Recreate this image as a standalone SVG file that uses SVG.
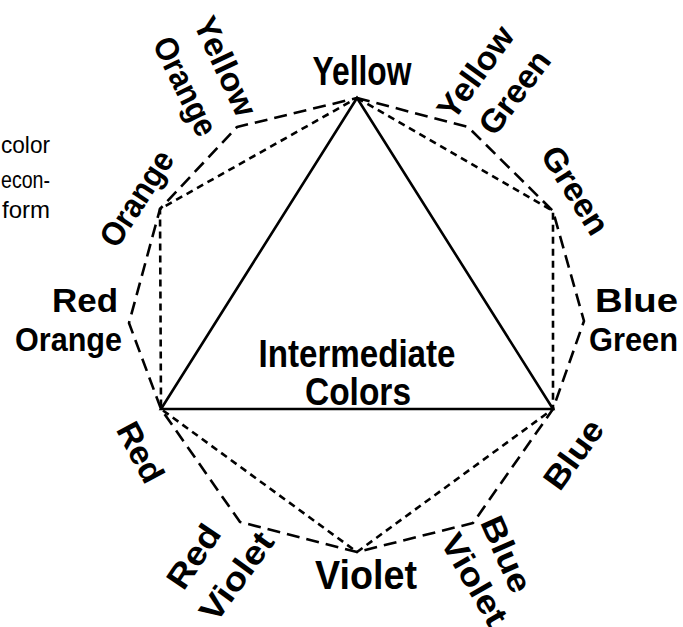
<svg xmlns="http://www.w3.org/2000/svg" width="683" height="627" viewBox="0 0 683 627">
<style>
  .bg { fill: #ffffff; }
  .solid { fill: none; stroke: #000; stroke-width: 2.6; stroke-linejoin: miter; }
  .short { fill: none; stroke: #000; stroke-width: 2.6; stroke-dasharray: 7 5; stroke-linejoin: round; }
  .long { fill: none; stroke: #000; stroke-width: 2.6; stroke-dasharray: 13 7; stroke-linejoin: round; }
  text { font-family: "Liberation Sans", Arial, sans-serif; fill: #000; }
  .up { font-weight: bold; font-size: 33px; }
  .big { font-weight: bold; font-size: 41px; }
  .rot { font-weight: bold; font-size: 33px; }
  .mid { font-weight: bold; font-size: 38px; }
  .side { font-size: 24px; }
</style>
<rect class="bg" x="0" y="0" width="683" height="627"/>

<g id="connectors">
  <polygon class="solid" points="357,98 553,409 161,409"/>
  <polygon class="short" points="357,98 553,211 553,409 357,552 161,409 160,209"/>
  <polygon class="long" points="357,98 468,127 553,211 584,321 553,409 473,523 357,552 240,522 161,409 129,323 160,209 237,127"/>
</g>

<g id="side-text">
  <text class="side" x="1" y="153" textLength="49" lengthAdjust="spacingAndGlyphs">color</text>
  <text class="side" x="1" y="188" textLength="49" lengthAdjust="spacingAndGlyphs">econ-</text>
  <text class="side" x="2" y="218" textLength="48" lengthAdjust="spacingAndGlyphs">form</text>
</g>

<g id="center-label">
  <text class="mid" x="357" y="367" text-anchor="middle" textLength="197" lengthAdjust="spacingAndGlyphs">Intermediate</text>
  <text class="mid" x="358" y="405" text-anchor="middle" textLength="106" lengthAdjust="spacingAndGlyphs">Colors</text>
</g>

<g id="yellow">
  <text class="big" x="362" y="85" text-anchor="middle" textLength="99" lengthAdjust="spacingAndGlyphs">Yellow</text>
</g>
<g id="violet">
  <text class="big" x="366" y="589" text-anchor="middle" textLength="102" lengthAdjust="spacingAndGlyphs">Violet</text>
</g>
<g id="red-orange">
  <text class="up" x="118" y="312" text-anchor="end" textLength="66" lengthAdjust="spacingAndGlyphs">Red</text>
  <text class="up" x="122" y="351" text-anchor="end" textLength="107" lengthAdjust="spacingAndGlyphs">Orange</text>
</g>
<g id="blue-green">
  <text class="up" x="595" y="312" textLength="83" lengthAdjust="spacingAndGlyphs">Blue</text>
  <text class="up" x="589" y="351" textLength="89" lengthAdjust="spacingAndGlyphs">Green</text>
</g>

<g id="yellow-orange">
  <g transform="translate(226,66) rotate(65)"><text class="rot" x="0" y="12" text-anchor="middle" textLength="106" lengthAdjust="spacingAndGlyphs">Yellow</text></g>
  <g transform="translate(186,86) rotate(64)"><text class="rot" x="0" y="12" text-anchor="middle" textLength="106" lengthAdjust="spacingAndGlyphs">Orange</text></g>
</g>
<g id="yellow-green">
  <g transform="translate(475,72) rotate(-54)"><text class="rot" x="0" y="12" text-anchor="middle" textLength="106" lengthAdjust="spacingAndGlyphs">Yellow</text></g>
  <g transform="translate(514,92) rotate(-53)"><text class="rot" x="0" y="12" text-anchor="middle" textLength="96" lengthAdjust="spacingAndGlyphs">Green</text></g>
</g>
<g id="orange">
  <g transform="translate(136,198) rotate(-57)"><text class="rot" x="0" y="12" text-anchor="middle" textLength="108" lengthAdjust="spacingAndGlyphs">Orange</text></g>
</g>
<g id="green">
  <g transform="translate(576,190) rotate(58)"><text class="rot" x="0" y="12" text-anchor="middle" textLength="98" lengthAdjust="spacingAndGlyphs">Green</text></g>
</g>
<g id="red">
  <g transform="translate(141,452) rotate(62)"><text class="rot" x="0" y="12" text-anchor="middle" textLength="64" lengthAdjust="spacingAndGlyphs">Red</text></g>
</g>
<g id="blue">
  <g transform="translate(573,454) rotate(-54)"><text class="rot" x="0" y="12" text-anchor="middle" textLength="78" lengthAdjust="spacingAndGlyphs">Blue</text></g>
</g>
<g id="red-violet">
  <g transform="translate(193,556) rotate(-56)"><text class="rot" x="0" y="12" text-anchor="middle" textLength="70" lengthAdjust="spacingAndGlyphs">Red</text></g>
  <g transform="translate(236,576) rotate(-54)"><text class="rot" x="0" y="12" text-anchor="middle" textLength="102" lengthAdjust="spacingAndGlyphs">Violet</text></g>
</g>
<g id="blue-violet">
  <g transform="translate(507,554) rotate(66)"><text class="rot" x="0" y="12" text-anchor="middle" textLength="80" lengthAdjust="spacingAndGlyphs">Blue</text></g>
  <g transform="translate(475,579) rotate(60)"><text class="rot" x="0" y="12" text-anchor="middle" textLength="100" lengthAdjust="spacingAndGlyphs">Violet</text></g>
</g>
</svg>
